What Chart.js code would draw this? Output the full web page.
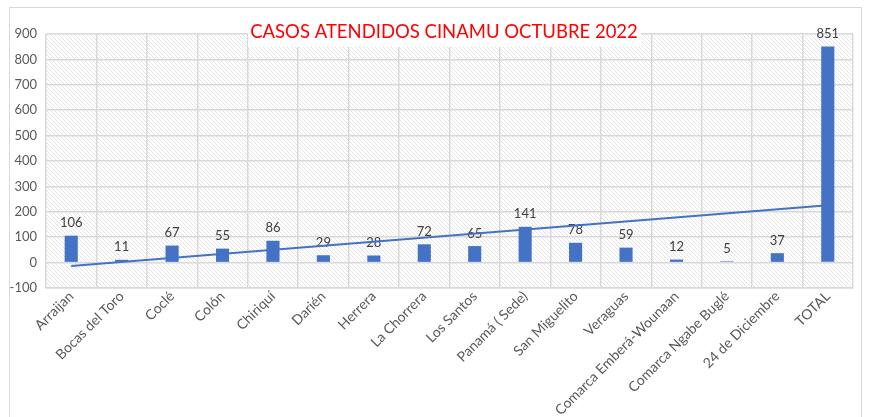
<!DOCTYPE html>
<html>
<head>
<meta charset="utf-8">
<script src="https://cdn.jsdelivr.net/npm/chart.js@4.4.0/dist/chart.umd.min.js"></script>
<style>
  html, body { margin: 0; padding: 0; background: #fff; }
  #wrap { width: 869px; height: 417px; }
</style>
</head>
<body>
<div id="wrap"><canvas id="casosChart" width="869" height="417"></canvas></div>
<script>
// datos
const categorias = [
  'Arraijan', 'Bocas del Toro', 'Coclé', 'Colón', 'Chiriquí', 'Darién',
  'Herrera', 'La Chorrera', 'Los Santos', 'Panamá ( Sede)', 'San Miguelito',
  'Veraguas', 'Comarca Emberá-Wounaan', 'Comarca Ngabe Buglé',
  '24 de Diciembre', 'TOTAL'
];
const casos = [106, 11, 67, 55, 86, 29, 28, 72, 65, 141, 78, 59, 12, 5, 37, 851];
const tendencia = [-13, null, null, null, null, null, null, null, null, null, null, null, null, null, null, 226];
const titulo = 'CASOS ATENDIDOS CINAMU OCTUBRE 2022';

const azul = '#4472C4';
const gris = '#595959';
const fuente = 'Lato, "Open Sans", sans-serif';

// patrón rayado del área de trazado
function crearPatron(ctx) {
  const c = document.createElement('canvas');
  c.width = 4; c.height = 4;
  const p = c.getContext('2d');
  p.fillStyle = '#ffffff';
  p.fillRect(0, 0, 4, 4);
  p.strokeStyle = '#e4e4e4';
  p.lineWidth = 1;
  p.beginPath();
  p.moveTo(-1, -1); p.lineTo(5, 5);
  p.moveTo(-1, 3); p.lineTo(1, 5);
  p.moveTo(3, -1); p.lineTo(5, 1);
  p.stroke();
  return ctx.createPattern(c, 'repeat');
}

const fondo = {
  id: 'fondo',
  beforeDraw(chart) {
    const { ctx, chartArea: a } = chart;
    ctx.save();
    ctx.fillStyle = '#fff';
    ctx.fillRect(0, 0, chart.width, chart.height);
    ctx.strokeStyle = '#d9d9d9';
    ctx.lineWidth = 1;
    ctx.strokeRect(9.5, 7.5, 852, 430);
    ctx.fillStyle = crearPatron(ctx);
    ctx.fillRect(a.left, a.top, a.right - a.left, a.bottom - a.top);
    ctx.restore();
  },
  afterDatasetDraw(chart, args) {
    if (args.index !== 0) return;
    const { ctx } = chart;
    const meta = chart.getDatasetMeta(0);
    ctx.save();
    ctx.font = '13px ' + fuente;
    ctx.fillStyle = '#404040';
    ctx.textAlign = 'center';
    ctx.textBaseline = 'bottom';
    meta.data.forEach((bar, i) => {
      ctx.fillText(casos[i], bar.x, bar.y - 6);
    });
    ctx.restore();
  },
  afterDraw(chart) {
    const { ctx } = chart;
    ctx.save();
    ctx.fillStyle = '#fff';
    ctx.fillRect(248, 15, 393, 32);
    ctx.font = '18.5px ' + fuente;
    ctx.fillStyle = '#FF0000';
    ctx.textAlign = 'center';
    ctx.textBaseline = 'middle';
    ctx.fillText(titulo, 444, 32);
    ctx.restore();
  }
};

const ctx = document.getElementById('casosChart').getContext('2d');
new Chart(ctx, {
  type: 'bar',
  data: {
    labels: categorias,
    datasets: [
      {
        label: 'Casos',
        data: casos,
        backgroundColor: azul,
        borderColor: azul,
        borderWidth: 0,
        categoryPercentage: 1,
        barPercentage: 0.26,
        order: 1
      },
      {
        label: 'Tendencia',
        type: 'line',
        data: tendencia,
        spanGaps: true,
        borderColor: azul,
        borderWidth: 2,
        pointRadius: 0,
        fill: false,
        order: 0
      }
    ]
  },
  options: {
    responsive: false,
    animation: false,
    layout: { padding: { left: 0, right: 16, top: 34, bottom: 0 } },
    plugins: {
      legend: { display: false },
      tooltip: { enabled: false }
    },
    scales: {
      x: {
        grid: { color: '#d9d9d9', lineWidth: 1.5, offset: true, drawTicks: false },
        border: { color: '#d9d9d9', width: 1.5 },
        ticks: {
          color: gris,
          font: { family: fuente, size: 14 },
          maxRotation: 45,
          minRotation: 45,
          autoSkip: false,
          padding: 0
        },
        afterFit(scale) { scale.height = 129; }
      },
      y: {
        min: -100,
        max: 900,
        grid: { color: '#d9d9d9', lineWidth: 1.5, drawTicks: false },
        border: { display: false },
        ticks: {
          stepSize: 100,
          color: gris,
          font: { family: fuente, size: 13 },
          padding: 9
        },
        afterFit(scale) { scale.width = 46; }
      }
    }
  },
  plugins: [fondo]
});
</script>
</body>
</html>
